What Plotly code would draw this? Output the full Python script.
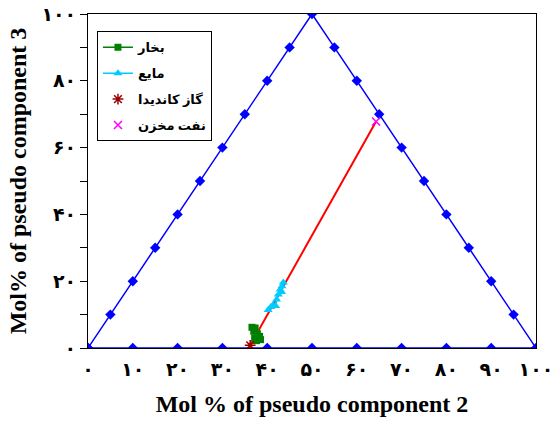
import plotly.graph_objects as go

# Triangle frame (ternary outline) with markers
tri_x = [0, 5, 10, 15, 20, 25, 30, 35, 40, 45, 50, 55, 60, 65, 70, 75, 80, 85, 90, 95, 100,
         90, 80, 70, 60, 50, 40, 30, 20, 10, 0]
tri_y = [0, 10, 20, 30, 40, 50, 60, 70, 80, 90, 100, 90, 80, 70, 60, 50, 40, 30, 20, 10, 0,
         0, 0, 0, 0, 0, 0, 0, 0, 0, 0]

# Vapor (بخار)
vap_x = [36.6, 37.3, 37.0, 37.8, 38.3, 38.5, 37.6, 37.2]
vap_y = [6.2, 6.0, 5.0, 4.3, 3.5, 2.5, 2.2, 3.0]

# Liquid (مایع)
liq_x = [40.2, 40.8, 41.3, 41.9, 42.1, 42.5, 42.9, 43.3, 43.6, 43.2]
liq_y = [11.4, 12.3, 12.9, 12.6, 14.5, 16.0, 17.5, 18.5, 19.6, 16.8]

# Candidate gas and reservoir oil
gas_x = [36.2]
gas_y = [0.8]
oil_x = [64.3]
oil_y = [67.8]

x_ticks = [0, 10, 20, 30, 40, 50, 60, 70, 80, 90, 100]
x_text = ["۰", "۱۰", "۲۰", "۳۰", "۴۰", "۵۰", "۶۰", "۷۰", "۸۰", "۹۰", "۱۰۰"]
y_ticks = [0, 10, 20, 30, 40, 50, 60, 70, 80, 90, 100]
y_text = ["۰", "", "۲۰", "", "۴۰", "", "۶۰", "", "۸۰", "", "۱۰۰"]

FONT = "Liberation Serif, DejaVu Sans, serif"
TICKFONT = "DejaVu Sans, sans-serif"

fig = go.Figure()
fig.add_trace(go.Scatter(x=tri_x, y=tri_y, mode="lines+markers", showlegend=False,
                         line=dict(color="#0000FF", width=1.5),
                         marker=dict(symbol="diamond", size=8, color="#0000FF")))
fig.add_trace(go.Scatter(x=gas_x + oil_x, y=gas_y + oil_y, mode="lines", showlegend=False,
                         line=dict(color="#FF0000", width=2)))
fig.add_trace(go.Scatter(x=vap_x, y=vap_y, mode="lines+markers", name="<b>بخار</b>",
                         legendgroup="g1",
                         line=dict(color="#008000", width=1.5),
                         marker=dict(symbol="square", size=7, color="#008000")))
fig.add_trace(go.Scatter(x=liq_x, y=liq_y, mode="lines+markers", name="<b>مایع</b>",
                         legendgroup="g2",
                         line=dict(color="#00CCFF", width=1.5),
                         marker=dict(symbol="triangle-up", size=8, color="#00CCFF")))
fig.add_trace(go.Scatter(x=gas_x, y=gas_y, mode="markers", name="<b>گاز کاندیدا</b>",
                         legendgroup="g3",
                         marker=dict(symbol="asterisk-open", size=9, color="#990000",
                                     line=dict(color="#990000", width=1.5))))
fig.add_trace(go.Scatter(x=oil_x, y=oil_y, mode="markers", name="<b>نفت مخزن</b>",
                         legendgroup="g4",
                         marker=dict(symbol="x-thin-open", size=8, color="#FF00FF",
                                     line=dict(color="#FF00FF", width=1.5))))

fig.update_layout(
    width=559, height=422,
    margin=dict(l=88, r=23, t=14, b=74, autoexpand=False),
    paper_bgcolor="white", plot_bgcolor="white",
    font=dict(family=FONT, color="black", size=14),
    legend=dict(x=0.02, y=0.948, xanchor="left", yanchor="top",
                bgcolor="white", bordercolor="black", borderwidth=1,
                tracegroupgap=6,
                font=dict(family=FONT, size=13)),
    xaxis=dict(range=[0, 100], tickvals=x_ticks, ticktext=x_text, ticks="",
               showgrid=False, zeroline=False, showline=True, linecolor="black",
               linewidth=1, mirror=True, layer="below traces",
               ticklabelstandoff=4, automargin=False,
               tickfont=dict(family=TICKFONT, size=19, weight="bold"),
               title=dict(text="<b>Mol % of pseudo component 2</b>", standoff=16,
                          font=dict(family=FONT, size=24))),
    yaxis=dict(range=[0, 100], tickvals=y_ticks, ticktext=y_text, ticks="outside",
               ticklen=7, tickcolor="black", automargin=False,
               showgrid=False, zeroline=False, showline=True, linecolor="black",
               linewidth=1, mirror=True, layer="below traces",
               tickfont=dict(family=TICKFONT, size=19, weight="bold"),
               title=dict(text="<b>Mol% of pseudo component 3</b>", standoff=8,
                          font=dict(family=FONT, size=24))),
)

fig.write_html("out.html")
